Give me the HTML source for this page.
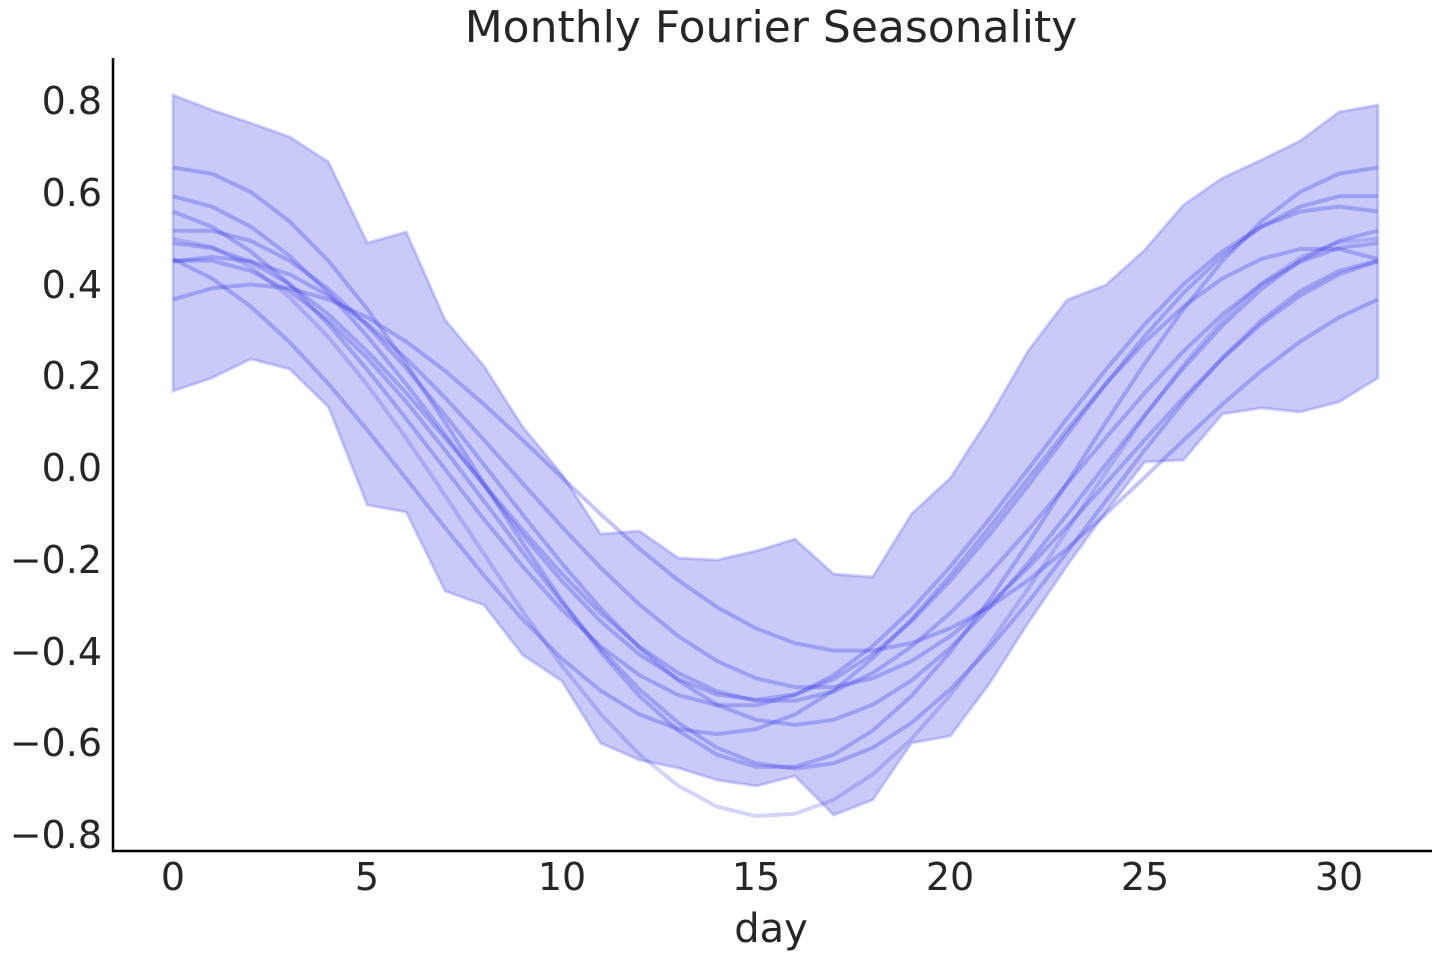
<!DOCTYPE html>
<html><head><meta charset="utf-8"><style>
html,body{margin:0;padding:0;background:#fff;}
svg{display:block;font-family:"DejaVu Sans","Liberation Sans",sans-serif;}
</style></head><body>
<svg id="s" width="1440" height="960" viewBox="0 0 1440 960">
<text x="771" y="42" font-size="44" fill="#262626" text-anchor="middle">Monthly Fourier Seasonality</text>
<g id="plot"></g>
<line x1="113" y1="58" x2="113" y2="852" stroke="#000" stroke-width="2.5"/>
<line x1="112" y1="851" x2="1432" y2="851" stroke="#000" stroke-width="2.5"/>
<g font-size="38" fill="#262626" text-anchor="end">
<text x="102" y="114">0.8</text>
<text x="102" y="206">0.6</text>
<text x="102" y="298">0.4</text>
<text x="102" y="389">0.2</text>
<text x="102" y="481">0.0</text>
<text x="102" y="573">−0.2</text>
<text x="102" y="665">−0.4</text>
<text x="102" y="756">−0.6</text>
<text x="102" y="848">−0.8</text>
</g>
<g font-size="38" fill="#262626" text-anchor="middle">
<text x="173" y="890">0</text>
<text x="367" y="890">5</text>
<text x="562" y="890">10</text>
<text x="756" y="890">15</text>
<text x="950" y="890">20</text>
<text x="1145" y="890">25</text>
<text x="1339" y="890">30</text>
<text x="771" y="942" font-size="40">day</text>
</g>
</svg>
<script>
var X=function(d){return 173+d*38.867;};
var Y=function(v){return 468-v*458.75;};
var up=[95,110,123,137,162,243,232,320,366,427,474,534,531,558,560,551,539,574,577,514,478,418,351,300,285,250,205,178,160,141,112,105];
var lo=[391,378,359,369,407,505,512,591,605,655,681,743,760,768,780,786,776,815,800,743,736,684,623,566,512,462,460,414,408,412,402,378];
var pts=[];
for(var i=0;i<32;i++)pts.push(X(i).toFixed(1)+","+up[i]);
for(var i=31;i>=0;i--)pts.push(X(i).toFixed(1)+","+lo[i]);
var h='<polygon points="'+pts.join(" ")+'" fill="rgb(201,202,248)" stroke="rgba(100,100,240,0.3)" stroke-width="3"/>';
// [amp, minDay, offset]
var L=[[0.655,15.5,0],[0.63,15.3,-0.13],[0.4,17.5,0],[0.55,15,0.045],[0.545,14.5,0.025],
[0.54,16,-0.02],[0.53,14,-0.05],[0.555,16,-0.1],[0.5,15.5,-0.01],[0.47,16.5,-0.01]];
for(var k=0;k<L.length;k++){
 var A=L[k][0],m=L[k][1],c=L[k][2],p=[];
 for(var d=0;d<=31.001;d+=1){
  var v=-A*Math.cos(2*Math.PI*(d-m)/31)+c;
  p.push(X(d).toFixed(1)+","+Y(v).toFixed(1));
 }
 var op=k==1?0.22:0.3;
 h+='<polyline points="'+p.join(" ")+'" fill="none" stroke="rgba(60,60,230,'+op+')" stroke-width="4" stroke-linejoin="round"/>';
}
document.getElementById("plot").innerHTML=h;
</script>
</body></html>
